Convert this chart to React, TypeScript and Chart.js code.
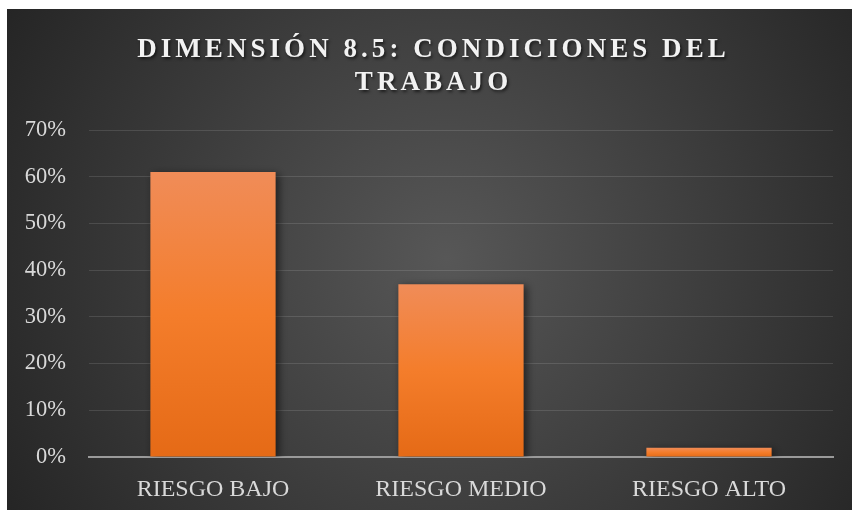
import React, { useEffect, useRef } from "react";
import { Chart, registerables } from "chart.js";

Chart.register(...registerables);

const TITLE_LINES = ["DIMENSIÓN 8.5: CONDICIONES DEL", "TRABAJO"];
const CATEGORIES = ["RIESGO BAJO", "RIESGO MEDIO", "RIESGO ALTO"];
const VALUES = [61, 37, 2];
const Y_MAX = 70;
const Y_STEP = 10;

const SERIF = "'Liberation Serif', 'Times New Roman', serif";

const bgPlugin = {
  id: "bgGradient",
  beforeDraw(chart: any) {
    const { ctx, width, height } = chart;
    const g = ctx.createRadialGradient(width * 0.52, height * 0.5, 0, width * 0.52, height * 0.5, width * 0.6);
    g.addColorStop(0, "#575757");
    g.addColorStop(1, "#252525");
    ctx.save();
    ctx.fillStyle = g;
    ctx.fillRect(0, 0, width, height);
    ctx.restore();
  },
};

const shadowPlugin = {
  id: "barShadow",
  beforeDatasetsDraw(chart: any) {
    const ctx = chart.ctx;
    ctx.save();
    ctx.shadowColor = "rgba(0,0,0,0.55)";
    ctx.shadowBlur = 8;
    ctx.shadowOffsetX = 3;
    ctx.shadowOffsetY = 2;
  },
  afterDatasetsDraw(chart: any) {
    chart.ctx.restore();
  },
};

const titlePlugin = {
  id: "spacedTitle",
  afterDraw(chart: any) {
    const { ctx, width } = chart;
    ctx.save();
    ctx.font = "bold 27px " + SERIF;
    (ctx as any).letterSpacing = "4.05px";
    ctx.textAlign = "center";
    ctx.textBaseline = "alphabetic";
    ctx.fillStyle = "#f2f2f2";
    ctx.shadowColor = "rgba(0,0,0,0.6)";
    ctx.shadowBlur = 3;
    ctx.shadowOffsetX = 1.5;
    ctx.shadowOffsetY = 1.5;
    const baselines = [48, 81];
    TITLE_LINES.forEach((line, i) => {
      ctx.fillText(line, width / 2 + 4, baselines[i]);
    });
    ctx.restore();
  },
};

export default function App() {
  const ref = useRef<HTMLCanvasElement | null>(null);

  useEffect(() => {
    if (!ref.current) return;
    const chart = new Chart(ref.current, {
      type: "bar",
      data: {
        labels: CATEGORIES,
        datasets: [
          {
            data: VALUES,
            backgroundColor: (c: any) => {
              const chart = c.chart;
              const y = chart.scales && chart.scales.y;
              if (!y || c.type !== "data") return "#F47D2B";
              const top = y.getPixelForValue(c.raw);
              const bot = y.getPixelForValue(0);
              if (!isFinite(top) || !isFinite(bot) || top === bot) return "#F47D2B";
              const g = chart.ctx.createLinearGradient(0, top, 0, bot);
              g.addColorStop(0, "#F08C58");
              g.addColorStop(0.5, "#F47D2B");
              g.addColorStop(1, "#E56A16");
              return g;
            },
            borderWidth: 0,
            barPercentage: 0.505,
            categoryPercentage: 1,
          },
        ],
      },
      options: {
        animation: false,
        responsive: false,
        layout: { padding: { top: 121, left: 18, right: 19, bottom: 0 } },
        plugins: {
          legend: { display: false },
          title: { display: false },
          tooltip: { enabled: false },
        },
        scales: {
          x: {
            grid: { display: false },
            border: { display: true, color: "#9a9a9a", width: 2 },
            afterFit: (scale: any) => {
              scale.height = 53;
            },
            ticks: {
              color: "#d9d9d9",
              padding: 10,
              font: { family: SERIF, size: 24 },
            },
          },
          y: {
            min: 0,
            max: Y_MAX,
            grid: { color: "rgba(255,255,255,0.12)", lineWidth: 1, drawTicks: false },
            border: { display: false },
            afterFit: (scale: any) => {
              scale.width = 64;
            },
            ticks: {
              stepSize: Y_STEP,
              color: "#d9d9d9",
              padding: 23,
              callback: (v: any) => v + "%",
              font: { family: SERIF, size: 22.5 },
            },
          },
        },
      },
      plugins: [bgPlugin, shadowPlugin, titlePlugin],
    });
    return () => chart.destroy();
  }, []);

  return (
    <div style={{ position: "absolute", left: 7, top: 9, width: 845, height: 501 }}>
      <canvas ref={ref} width={845} height={501} style={{ width: 845, height: 501, display: "block" }} />
    </div>
  );
}
